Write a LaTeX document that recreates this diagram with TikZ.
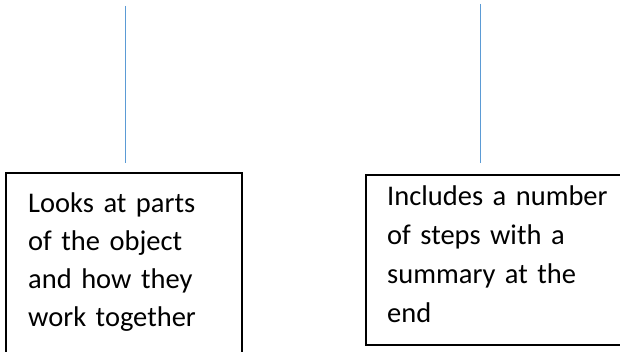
\documentclass[tikz,border=0pt]{standalone}
\usepackage{fontspec}
\setmainfont{Carlito}
\definecolor{linkblue}{RGB}{91,155,213}
\tikzset{
  boxframe/.style={draw=black, line width=1.6pt, inner sep=0pt},
  boxtext/.style={anchor=base west, inner sep=0pt, align=left, text width=240pt},
  stem/.style={draw=linkblue, line width=1pt}
}
\begin{document}
\begin{tikzpicture}[x=1pt,y=1pt]
\useasboundingbox (0,0) rectangle (620,351);
\fill[white] (0,0) rectangle (620,351);
% boxes
\node[boxframe, minimum width=236pt, minimum height=187pt] (lbox) at (124,84.5) {};
\node[boxframe, minimum width=259pt, minimum height=170pt] (rbox) at (495.5,91) {};
% texts
\node[boxtext, font=\fontsize{28.5}{38}\selectfont] (ltext) at (28,139) {Looks at parts\\of the object\\and how they\\work together};
\node[boxtext, font=\fontsize{28.5}{39}\selectfont] (rtext) at (387,146) {Includes a number\\of steps with a\\summary at the\\end};
% stems
\coordinate (ltop) at (125,345);
\coordinate (lbot) at (125,188);
\coordinate (rtop) at (480,347);
\coordinate (rbot) at (480,188);
\draw[stem] (ltop) -- (lbot);
\draw[stem] (rtop) -- (rbot);
\end{tikzpicture}
\end{document}
